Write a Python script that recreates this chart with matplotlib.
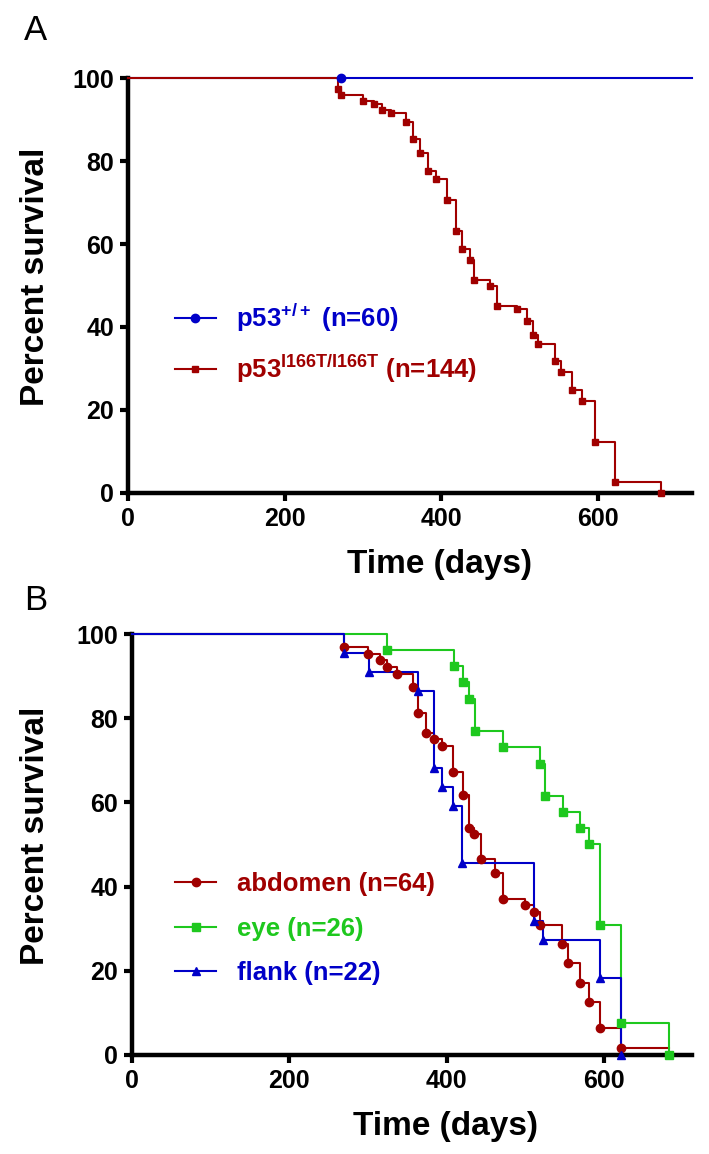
import matplotlib
matplotlib.use('Agg')
import matplotlib.pyplot as plt
from matplotlib.lines import Line2D

plt.rcParams['font.family'] = ['Liberation Sans', 'DejaVu Sans']
plt.rcParams['mathtext.default'] = 'regular'

RED = '#a00000'
BLUE = '#0000c8'
GREEN = '#1ec81e'

# Panel A: overall survival
wt_days = [272]
wt_pct = [100]
wt_end = 720
mut_days = [268, 272, 300, 314, 324, 336, 355, 364, 373, 383, 393, 407, 419, 427,
            436, 442, 462, 471, 497, 509, 517, 524, 545, 553, 567, 580, 596, 622, 680]
mut_pct = [97.4, 95.8, 94.4, 93.7, 92.4, 91.6, 89.4, 85.4, 81.9, 77.7, 75.7, 70.7, 63.2, 58.9,
           56.2, 51.3, 49.8, 45.1, 44.3, 41.4, 38.1, 35.9, 31.9, 29.1, 24.7, 22.1, 12.2, 2.6, 0]
mut_end = 680

# Panel B: by tumour site
abd_days = [270, 300, 315, 324, 337, 357, 364, 374, 384, 394, 408, 421, 428, 435, 443,
            462, 472, 499, 511, 518, 547, 554, 569, 581, 595, 622]
abd_pct = [96.9, 95.3, 93.8, 92.2, 90.6, 87.5, 81.3, 76.6, 75.0, 73.4, 67.2, 61.7, 54.0, 52.4, 46.5,
           43.3, 37.1, 35.6, 34.0, 30.9, 26.3, 21.8, 17.2, 12.5, 6.3, 1.6]
abd_end = 682
eye_days = [324, 409, 421, 428, 436, 472, 518, 525, 548, 569, 581, 595, 622, 682]
eye_pct = [96.2, 92.3, 88.5, 84.6, 76.9, 73.1, 69.2, 61.5, 57.7, 53.8, 50.0, 30.8, 7.7, 0]
eye_end = 682
flank_days = [270, 301, 364, 384, 394, 408, 420, 511, 523, 595, 622]
flank_pct = [95.5, 90.9, 86.4, 68.2, 63.6, 59.1, 45.5, 31.8, 27.3, 18.2, 0]
flank_end = 622


def km(ax, days, pct, end, color, marker, ms, label):
    t = [0] + days + [end]
    s = [100] + pct + [pct[-1]]
    ax.step(t, s, where='post', color=color, lw=1.5, clip_on=False, zorder=3)
    ax.plot(days, pct, ls='none', marker=marker, color=color, ms=ms, clip_on=False, zorder=4)
    return Line2D([], [], color=color, lw=1.5, marker=marker, ms=ms, label=label)


def style(ax, xmax):
    ax.set_xlim(0, xmax)
    ax.set_ylim(0, 100)
    for s in ['top', 'right']:
        ax.spines[s].set_visible(False)
    for s in ['left', 'bottom']:
        ax.spines[s].set_linewidth(3.2)
    ax.set_xticks([0, 200, 400, 600])
    ax.set_yticks(range(0, 101, 20))
    ax.tick_params(width=3, length=6, labelsize=18, pad=4)
    for lab in ax.get_xticklabels() + ax.get_yticklabels():
        lab.set_fontweight('bold')
    ax.set_xlabel('Time (days)', fontsize=24, fontweight='bold')
    ax.set_ylabel('Percent survival', fontsize=24, fontweight='bold')


fig = plt.figure(figsize=(7.09, 11.54), dpi=100)

axA = fig.add_axes([0.1805, 0.5728, 0.7955, 0.3596])
style(axA, 720)
hA = [km(axA, wt_days, wt_pct, wt_end, BLUE, 'o', 6, r'p53$^{+/+}$ (n=60)'),
      km(axA, mut_days, mut_pct, mut_end, RED, 's', 4.5, r'p53$^{I166T/I166T}$ (n=144)')]
legA = axA.legend(handles=hA, loc='center left', bbox_to_anchor=(0.083, 0.36), frameon=False,
                  prop={'size': 18.5, 'weight': 'bold'}, handlelength=1.6, handletextpad=0.8,
                  labelspacing=0.75, borderpad=0, borderaxespad=0, numpoints=1)
for txt, c in zip(legA.get_texts(), [BLUE, RED]):
    txt.set_color(c)
axA.xaxis.set_label_coords(0.553, -0.135)
axA.yaxis.set_label_coords(-0.137, 0.52)

axB = fig.add_axes([0.1862, 0.0858, 0.790, 0.3648])
style(axB, 712)
hB = [km(axB, abd_days, abd_pct, abd_end, RED, 'o', 6, 'abdomen (n=64)'),
      km(axB, eye_days, eye_pct, eye_end, GREEN, 's', 6, 'eye (n=26)'),
      km(axB, flank_days, flank_pct, flank_end, BLUE, '^', 6, 'flank (n=22)')]
legB = axB.legend(handles=hB, loc='center left', bbox_to_anchor=(0.077, 0.30), frameon=False,
                  prop={'size': 18.5, 'weight': 'bold'}, handlelength=1.6, handletextpad=0.8,
                  labelspacing=0.8, borderpad=0, borderaxespad=0, numpoints=1)
for txt, c in zip(legB.get_texts(), [RED, GREEN, BLUE]):
    txt.set_color(c)
axB.xaxis.set_label_coords(0.56, -0.133)
axB.yaxis.set_label_coords(-0.145, 0.52)

fig.text(0.05, 0.974, 'A', fontsize=25, ha='center', va='center')
fig.text(0.05, 0.48, 'B', fontsize=25, ha='center', va='center')

fig.savefig('out.png', dpi=100)
